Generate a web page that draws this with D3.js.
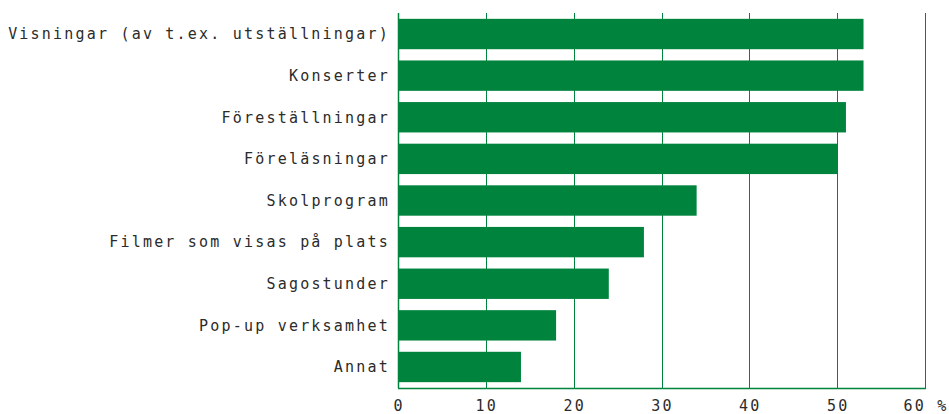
<!DOCTYPE html>
<html>
<head>
<meta charset="utf-8">
<script src="https://cdn.jsdelivr.net/npm/d3@7"></script>
<style>
  body { margin: 0; background: #fff; }
  text { font-family: "DejaVu Sans Mono", monospace; font-size: 15px; fill: #2b2b2b; letter-spacing: 2.2px; }
</style>
</head>
<body>
<div id="chart"></div>
<script>
const fig_width = 949
const fig_height = 414

// categories and values (percent)
const categories = [
    "Visningar (av t.ex. utställningar)",
    "Konserter",
    "Föreställningar",
    "Föreläsningar",
    "Skolprogram",
    "Filmer som visas på plats",
    "Sagostunder",
    "Pop-up verksamhet",
    "Annat"
]
const values = [53, 53, 51, 50, 34, 28, 24, 18, 14]
const x_ticks = [0, 10, 20, 30, 40, 50, 60]
const x_tick_labels = ["0", "10", "20", "30", "40", "50", "60 %"]

const green = "#00843d"
const margin = {top: 13, right: 24, bottom: 26, left: 398}

let svg = d3.select("#chart")
    .append("svg")
    .attr("width", fig_width)
    .attr("height", fig_height)

let x = d3.scaleLinear()
    .domain([0, 60])
    .range([margin.left, fig_width - margin.right])

let y = d3.scaleBand()
    .domain(categories)
    .range([margin.top, fig_height - margin.bottom])
    .paddingInner(0.27)
    .paddingOuter(0.14)

// gridlines first so bars cover them
svg.selectAll("line.grid")
    .data(x_ticks)
    .join("line")
    .attr("class", "grid")
    .attr("x1", d => Math.round(x(d)) + 0.5)
    .attr("x2", d => Math.round(x(d)) + 0.5)
    .attr("y1", margin.top)
    .attr("y2", fig_height - margin.bottom)
    .style("stroke", green)
    .style("stroke-width", d => d === 0 ? 1.5 : 1)

svg.append("line")
    .attr("x1", x(0))
    .attr("x2", x(60) + 1)
    .attr("y1", fig_height - margin.bottom + 0.5)
    .attr("y2", fig_height - margin.bottom + 0.5)
    .style("stroke", green)
    .style("stroke-width", 1.5)

svg.selectAll("rect.bar")
    .data(values)
    .join("rect")
    .attr("class", "bar")
    .attr("x", x(0) + 1)
    .attr("y", (d, i) => y(categories[i]))
    .attr("width", d => x(d) - x(0) - 1)
    .attr("height", y.bandwidth())
    .attr("fill", green)

// category labels
svg.selectAll("text.cat")
    .data(categories)
    .join("text")
    .attr("class", "cat")
    .attr("x", x(0) - 8)
    .attr("y", d => y(d) + y.bandwidth() / 2)
    .attr("dy", "0.35em")
    .attr("text-anchor", "end")
    .text(d => d)

// x tick labels, the last one carries the unit
svg.selectAll("text.tick")
    .data(x_ticks)
    .join("text")
    .attr("class", "tick")
    .attr("x", d => x(d) + 1)
    .attr("y", fig_height - 3)
    .attr("text-anchor", "middle")
    .text((d, i) => x_tick_labels[i])
</script>
</body>
</html>
